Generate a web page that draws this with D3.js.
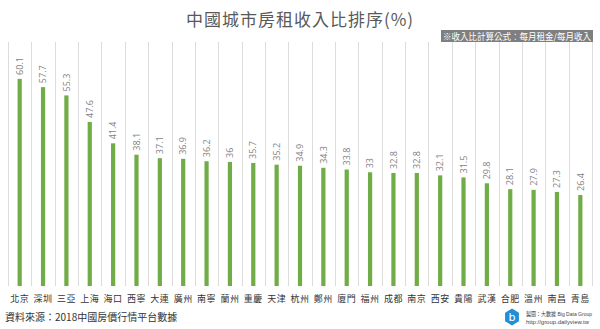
<!DOCTYPE html>
<html>
<head>
<meta charset="utf-8">
<script src="https://cdn.jsdelivr.net/npm/d3@7"></script>
<style>
  html, body { margin: 0; padding: 0; background: #fff; overflow: hidden; }
  #chart { width: 600px; height: 329px; }
  svg { display: block; font-family: "Noto Sans CJK TC", "Noto Sans", sans-serif; }
</style>
</head>
<body>
<div id="chart"></div>
<script>
const cities = [
  "北京", "深圳", "三亞", "上海", "海口", "西寧", "大連", "廣州", "南寧", "蘭州",
  "重慶", "天津", "杭州", "鄭州", "廈門", "福州", "成都", "南京", "西安", "貴陽",
  "武漢", "合肥", "溫州", "南昌", "青島",
];

const ratios = [
  60.1, 57.7, 55.3, 47.6, 41.4, 38.1, 37.1, 36.9, 36.2, 36,
  35.7, 35.2, 34.9, 34.3, 33.8, 33, 32.8, 32.8, 32.1, 31.5,
  29.8, 28.1, 27.9, 27.3, 26.4,
];

const titleText = "中國城市房租收入比排序(%)";
const noteText = "※收入比計算公式：每月租金/每月收入";
const sourceText = "資料來源：2018中國房價行情平台數據";
const creditLines = ["製圖：大數據 Big Data Group", "http://group.dailyview.tw"];

const width = 600;
const height = 329;
const margin = { top: 42, right: 8, bottom: 43, left: 8 };

const data = cities.map((name, i) => ({ name, value: ratios[i] }));

const svg = d3.select("#chart").append("svg")
  .attr("width", width)
  .attr("height", height)
  .attr("viewBox", `0 0 ${width} ${height}`);

const innerWidth = width - margin.left - margin.right;
const innerHeight = height - margin.top - margin.bottom;

const x = d3.scaleBand()
  .domain(cities)
  .range([0, innerWidth])
  .paddingInner(0.82)
  .paddingOuter(0.41);

const step = innerWidth / cities.length;

// 60.1 reaches y≈79 in the reference, baseline at y≈286
const y = d3.scaleLinear()
  .domain([0, 70.8])
  .range([innerHeight, 0]);

const plot = svg.append("g")
  .attr("transform", `translate(${margin.left},${margin.top})`);

// vertical grid between categories
plot.append("g")
  .selectAll("line")
  .data(d3.range(cities.length + 1))
  .join("line")
  .attr("x1", (i) => Math.round(i * step) + 0.5)
  .attr("x2", (i) => Math.round(i * step) + 0.5)
  .attr("y1", 0)
  .attr("y2", innerHeight)
  .attr("stroke", "#dcdcdc")
  .attr("stroke-width", 1);

plot.append("g")
  .selectAll("rect")
  .data(data)
  .join("rect")
  .attr("x", (d) => x(d.name))
  .attr("y", (d) => y(d.value))
  .attr("width", x.bandwidth())
  .attr("height", (d) => innerHeight - y(d.value))
  .attr("fill", "#70ad47");

plot.append("g")
  .selectAll("text")
  .data(data)
  .join("text")
  .attr("transform", (d) =>
    `translate(${x(d.name) + x.bandwidth() / 2 + 3.2},${y(d.value) - 4}) rotate(-90)`)
  .attr("font-size", 9)
  .attr("fill", "#7f7f7f")
  .attr("font-family", "'Open Sans', 'Noto Sans', sans-serif")
  .text((d) => d.value);

// category axis
const axisX = plot.append("g")
  .attr("transform", `translate(0,${innerHeight})`)
  .call(d3.axisBottom(x).tickSize(0).tickPadding(10));
axisX.select(".domain").remove();
axisX.selectAll("text")
  .attr("font-size", 9)
  .attr("fill", "#333")
  .attr("letter-spacing", 0.5)
  .attr("font-family", "'Noto Sans CJK TC', sans-serif");

// title
svg.append("text")
  .attr("x", width / 2)
  .attr("y", 26)
  .attr("text-anchor", "middle")
  .attr("font-size", 17)
  .attr("fill", "#595959")
  .attr("letter-spacing", 1)
  .text(titleText);

// formula note
const note = svg.append("g").attr("transform", "translate(441,30)");
note.append("rect")
  .attr("width", 152)
  .attr("height", 12)
  .attr("fill", "#7f7f7f");
note.append("text")
  .attr("x", 2)
  .attr("y", 9.5)
  .attr("font-size", 9)
  .attr("fill", "#fff")
  .attr("textLength", 148)
  .attr("lengthAdjust", "spacingAndGlyphs")
  .text(noteText);

// source
svg.append("text")
  .attr("x", 5)
  .attr("y", 321)
  .attr("font-size", 10)
  .attr("fill", "#333")
  .text(sourceText);

// credit logo
const credit = svg.append("g").attr("transform", "translate(512,317)");
credit.append("path")
  .attr("d", d3.line()(d3.range(6).map((i) => {
    const a = Math.PI / 3 * i + Math.PI / 6;
    return [8 * Math.cos(a), 8.5 * Math.sin(a)];
  })) + "Z")
  .attr("fill", "#1e90d6");
credit.append("text")
  .attr("y", 4)
  .attr("text-anchor", "middle")
  .attr("font-size", 11)
  .attr("fill", "#fff")
  .attr("font-family", "'DejaVu Sans', sans-serif")
  .text("b");
credit.selectAll("text.credit")
  .data(creditLines)
  .join("text")
  .attr("class", "credit")
  .attr("x", 14)
  .attr("y", (d, i) => -1 + i * 7.5)
  .attr("font-size", 6)
  .attr("fill", "#444")
  .attr("textLength", (d, i) => (i === 0 ? 66 : 63))
  .attr("lengthAdjust", "spacingAndGlyphs")
  .attr("font-family", "'Liberation Sans', 'Noto Sans CJK TC', sans-serif")
  .text((d) => d);
</script>
</body>
</html>
